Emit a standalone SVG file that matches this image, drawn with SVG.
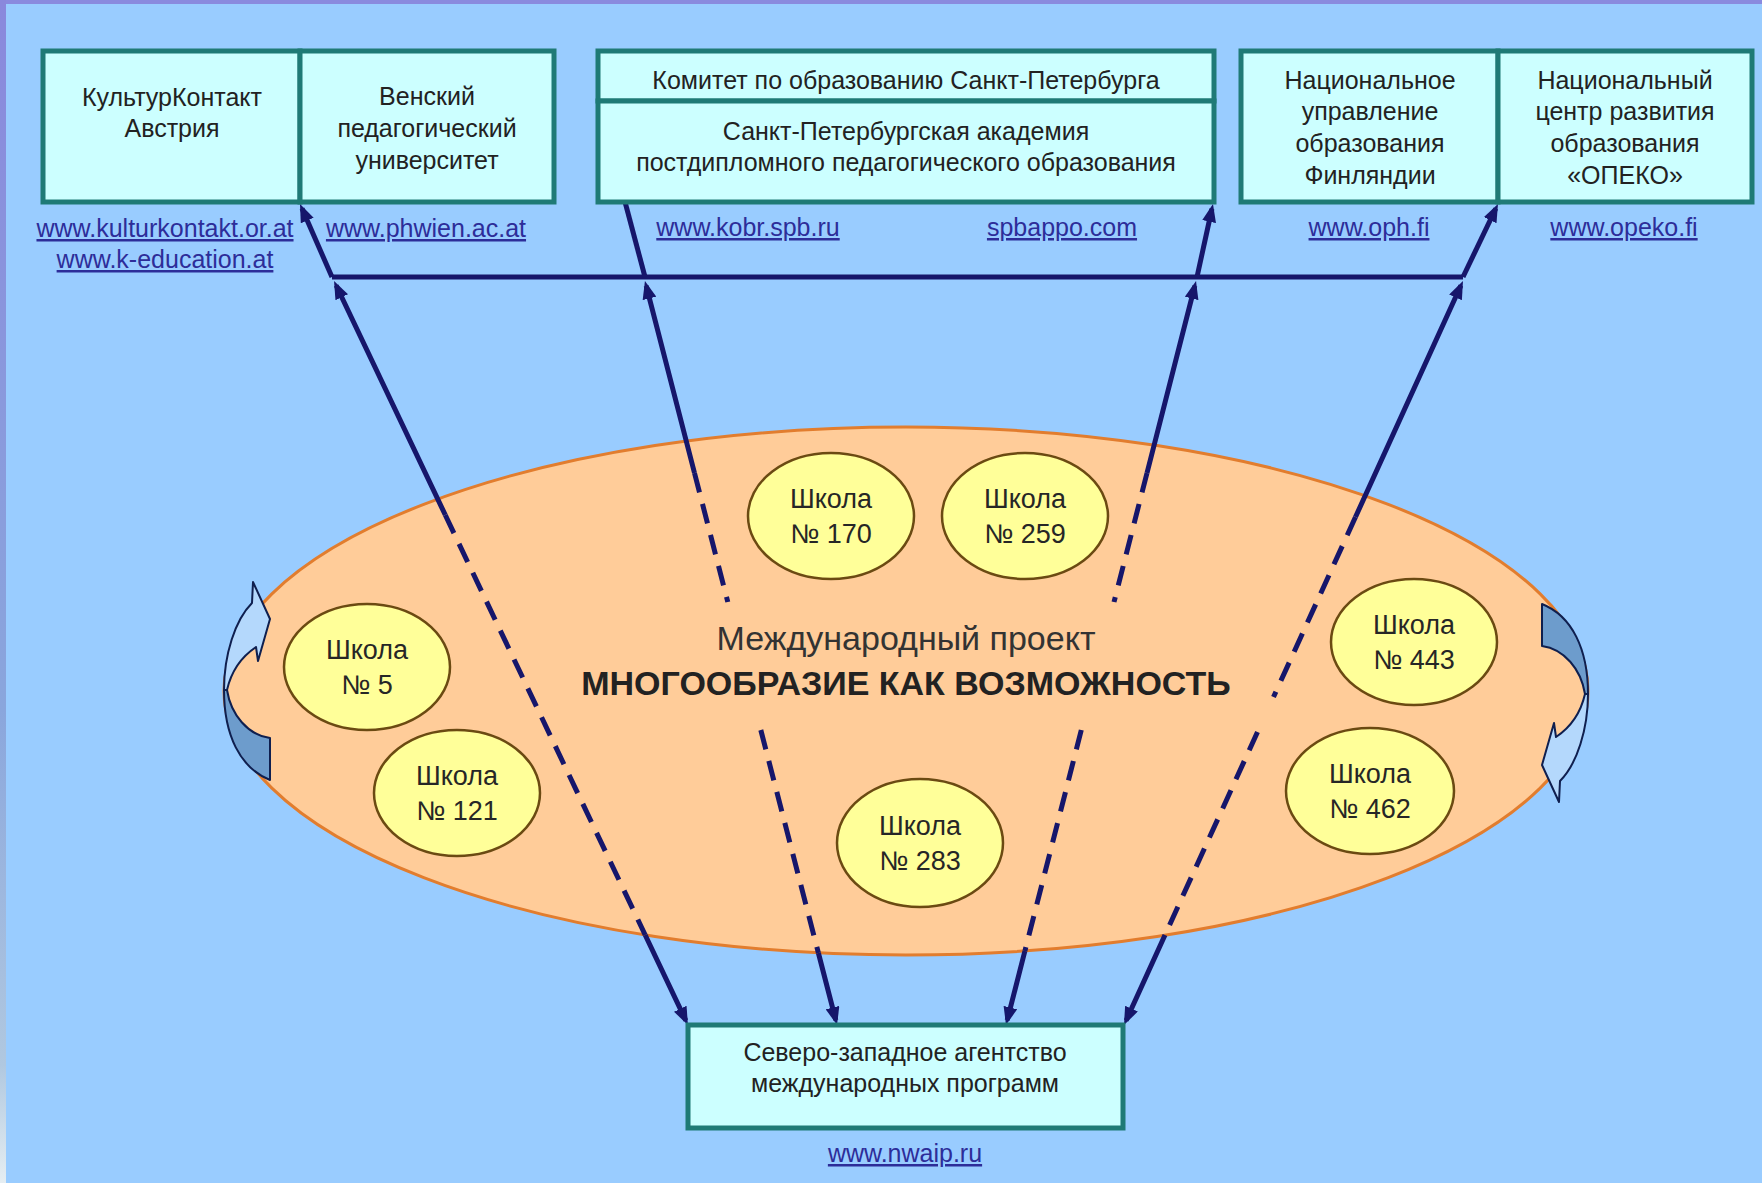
<svg xmlns="http://www.w3.org/2000/svg" width="1762" height="1183" viewBox="0 0 1762 1183">
<style>
.box{fill:#ccffff;stroke:#1f7a76;stroke-width:5}
.t{font-family:"Liberation Sans",Arial,sans-serif;font-size:25px;fill:#222;text-anchor:middle}
.u{font-family:"Liberation Sans",Arial,sans-serif;font-size:25px;fill:#2d2d99;text-anchor:middle;text-decoration:underline}
.sch{fill:#ffff99;stroke:#6b4a12;stroke-width:2.5}
.st{font-family:"Liberation Sans",Arial,sans-serif;font-size:27px;fill:#262626;text-anchor:middle}
.ln{fill:none;stroke:#16166b;stroke-width:5}
.dash{stroke-dasharray:20 12}
.arL{fill:#b4d8fc;stroke:#0f1f4f;stroke-width:2;stroke-linejoin:round}
.arD{fill:#6d9ccc;stroke:#0f1f4f;stroke-width:2;stroke-linejoin:round}
</style>
<defs>
<linearGradient id="lb" x1="0" y1="0" x2="0" y2="1">
<stop offset="0" stop-color="#8a88dc"/>
<stop offset="0.6" stop-color="#8aa6dc"/>
<stop offset="0.9" stop-color="#b0c8e0"/>
<stop offset="1" stop-color="#e6eef2"/>
</linearGradient>
<marker id="ah" viewBox="0 0 18 14" refX="13" refY="7" markerWidth="18" markerHeight="14" markerUnits="userSpaceOnUse" orient="auto-start-reverse">
<path d="M0,0 L18,7 L0,14 Z" fill="#16166b"/>
</marker>
<g id="sideArrow">
<path class="arD" d="M224,690 C224,735 240,768 270,780 L270,738 C248,735 231,715 227,690 Z"/>
<path class="arL" d="M252,603 L253,582 L270,619 L258,661 L256,647 C244,655 232,668 227,690 L224,690 C224,655 235,620 252,603 Z"/>
</g>
</defs>

<rect x="0" y="0" width="1762" height="1183" fill="#99ccff"/>
<rect x="0" y="0" width="1762" height="4" fill="#8a8ade"/>
<rect x="0" y="0" width="6" height="1183" fill="url(#lb)"/>

<g id="project">
<ellipse cx="906" cy="691" rx="682" ry="264" fill="#ffcc99" stroke="#e27d2e" stroke-width="3"/>
<text class="t" x="906" y="650" style="font-size:34px;fill:#333">Международный проект</text>
<text class="t" x="906" y="695" style="font-size:34px;font-weight:bold">МНОГООБРАЗИЕ КАК ВОЗМОЖНОСТЬ</text>
</g>

<g id="cycle-left"><use href="#sideArrow"/></g>
<g id="cycle-right"><use href="#sideArrow" transform="rotate(180 906 692)"/></g>

<g id="connectors">
<path class="ln" d="M332,277 L1463,277"/>
<path class="ln" d="M336.2,285.5 L445.3,515 M645.2,935 L685.8,1020.5" marker-start="url(#ah)" marker-end="url(#ah)"/>
<path class="ln dash" d="M445.3,515 L645.2,935"/>
<path class="ln" d="M332,277 L302,208.6" marker-end="url(#ah)"/>
<path class="ln" d="M646.2,285.8 L694.5,473 M818.4,953 L835.8,1020.2" marker-start="url(#ah)" marker-end="url(#ah)"/>
<path class="ln dash" d="M694.5,473 L727.8,602 M760.8,730 L818.4,953"/>
<path class="ln" d="M645,277 L600.3,108.8" marker-end="url(#ah)"/>
<path class="ln" d="M1194.8,285.8 L1147,473 M1024.9,951 L1007.2,1020.2" marker-start="url(#ah)" marker-end="url(#ah)"/>
<path class="ln dash" d="M1147,473 L1114,602 M1081.3,730 L1024.9,951"/>
<path class="ln" d="M1197,277 L1211.9,208.9" marker-end="url(#ah)"/>
<path class="ln" d="M1460.9,285.5 L1355.5,517 M1165,935 L1126.1,1020.5" marker-start="url(#ah)" marker-end="url(#ah)"/>
<path class="ln dash" d="M1355.5,517 L1273.5,697 M1257.5,732 L1165,935"/>
<path class="ln" d="M1463,277 L1495.8,208.5" marker-end="url(#ah)"/>
</g>

<g id="school-170"><ellipse class="sch" cx="831" cy="516" rx="83" ry="63"/><text class="st" x="831" y="508">Школа</text><text class="st" x="831" y="543">№ 170</text></g>
<g id="school-259"><ellipse class="sch" cx="1025" cy="516" rx="83" ry="63"/><text class="st" x="1025" y="508">Школа</text><text class="st" x="1025" y="543">№ 259</text></g>
<g id="school-5"><ellipse class="sch" cx="367" cy="667" rx="83" ry="63"/><text class="st" x="367" y="659">Школа</text><text class="st" x="367" y="694">№ 5</text></g>
<g id="school-121"><ellipse class="sch" cx="457" cy="793" rx="83" ry="63"/><text class="st" x="457" y="785">Школа</text><text class="st" x="457" y="820">№ 121</text></g>
<g id="school-283"><ellipse class="sch" cx="920" cy="843" rx="83" ry="64"/><text class="st" x="920" y="835">Школа</text><text class="st" x="920" y="870">№ 283</text></g>
<g id="school-443"><ellipse class="sch" cx="1414" cy="642" rx="83" ry="63"/><text class="st" x="1414" y="634">Школа</text><text class="st" x="1414" y="669">№ 443</text></g>
<g id="school-462"><ellipse class="sch" cx="1370" cy="791" rx="84" ry="63"/><text class="st" x="1370" y="783">Школа</text><text class="st" x="1370" y="818">№ 462</text></g>

<g id="kulturkontakt">
<rect class="box" x="43" y="51" width="257" height="151"/>
<text class="t" x="172" y="106">КультурКонтакт</text>
<text class="t" x="172" y="137">Австрия</text>
<text class="u" x="165" y="237">www.kulturkontakt.or.at</text>
<text class="u" x="165" y="268">www.k-education.at</text>
</g>
<g id="phwien">
<rect class="box" x="300" y="51" width="254" height="151"/>
<text class="t" x="427" y="105">Венский</text>
<text class="t" x="427" y="137">педагогический</text>
<text class="t" x="427" y="169">университет</text>
<text class="u" x="426" y="237">www.phwien.ac.at</text>
</g>
<g id="kobr">
<rect class="box" x="598" y="51" width="616" height="50"/>
<text class="t" x="906" y="89">Комитет по образованию Санкт-Петербурга</text>
<text class="u" x="748" y="236">www.kobr.spb.ru</text>
</g>
<g id="spbappo">
<rect class="box" x="598" y="101" width="616" height="101"/>
<text class="t" x="906" y="140">Санкт-Петербургская академия</text>
<text class="t" x="906" y="171">постдипломного педагогического образования</text>
<text class="u" x="1062" y="236">spbappo.com</text>
</g>
<g id="oph">
<rect class="box" x="1241" y="51" width="257" height="151"/>
<text class="t" x="1370" y="89">Национальное</text>
<text class="t" x="1370" y="120">управление</text>
<text class="t" x="1370" y="152">образования</text>
<text class="t" x="1370" y="184">Финляндии</text>
<text class="u" x="1369" y="236">www.oph.fi</text>
</g>
<g id="opeko">
<rect class="box" x="1498" y="51" width="254" height="151"/>
<text class="t" x="1625" y="89">Национальный</text>
<text class="t" x="1625" y="120">центр развития</text>
<text class="t" x="1625" y="152">образования</text>
<text class="t" x="1625" y="184">«ОПЕКО»</text>
<text class="u" x="1624" y="236">www.opeko.fi</text>
</g>
<g id="nwaip">
<rect class="box" x="688" y="1025" width="435" height="103"/>
<text class="t" x="905" y="1061">Северо-западное агентство</text>
<text class="t" x="905" y="1092">международных программ</text>
<text class="u" x="905" y="1162">www.nwaip.ru</text>
</g>
</svg>
